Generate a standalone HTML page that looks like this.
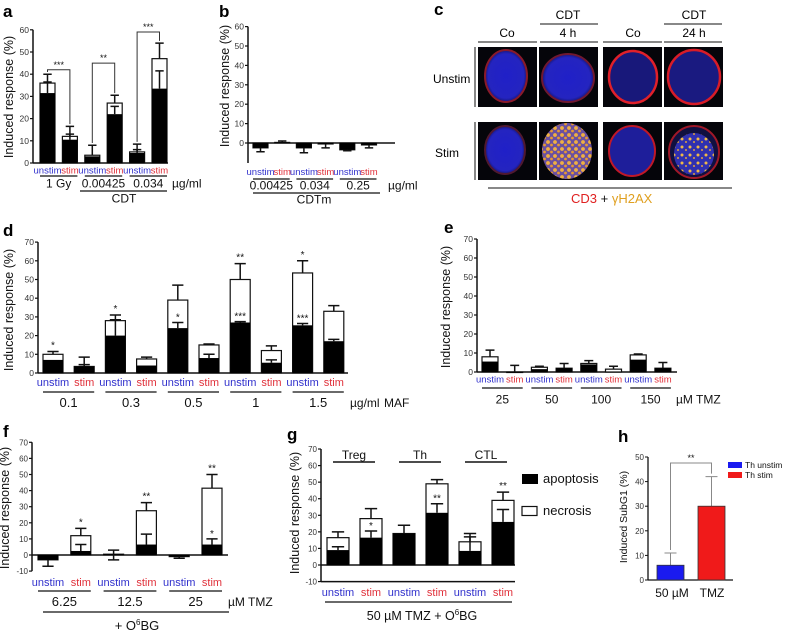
<!DOCTYPE html>
<html><head><meta charset="utf-8">
<style>
html,body{margin:0;padding:0;background:#fff;}
svg{display:block;font-family:"Liberation Sans",Arial,sans-serif;}
</style></head>
<body>
<svg id="fig" width="790" height="632" viewBox="0 0 790 632">
<defs>
<radialGradient id="nuc" cx="50%" cy="50%" r="50%"><stop offset="0%" stop-color="#2020c8"/><stop offset="85%" stop-color="#2424c0"/><stop offset="100%" stop-color="#16167a"/></radialGradient>
<pattern id="spk" width="7" height="7" patternUnits="userSpaceOnUse"><rect width="7" height="7" fill="#6a50a0"/><circle cx="2" cy="2" r="1.9" fill="#f0b040"/><circle cx="5.5" cy="5" r="1.4" fill="#e89a30"/></pattern>
<pattern id="spk2" width="8" height="8" patternUnits="userSpaceOnUse"><rect width="8" height="8" fill="#3030b0"/><circle cx="2" cy="3" r="1.5" fill="#f0b848"/><circle cx="6" cy="6" r="1" fill="#e0a040"/></pattern>
</defs>
<text x="3" y="17" font-size="17" font-weight="bold">a</text>
<text x="219" y="17" font-size="17" font-weight="bold">b</text>
<text x="434" y="15" font-size="17" font-weight="bold">c</text>
<text x="3" y="236" font-size="17" font-weight="bold">d</text>
<text x="444" y="233" font-size="17" font-weight="bold">e</text>
<text x="3" y="437" font-size="17" font-weight="bold">f</text>
<text x="287" y="440" font-size="17" font-weight="bold">g</text>
<text x="618" y="442" font-size="17" font-weight="bold">h</text>

<g>
<text x="507" y="37" font-size="12" text-anchor="middle">Co</text>
<line x1="478" y1="42" x2="537" y2="42" stroke="#111" stroke-width="1"/>
<text x="568" y="19" font-size="12" text-anchor="middle">CDT</text>
<line x1="540" y1="24" x2="598" y2="24" stroke="#111" stroke-width="1"/>
<text x="568" y="37" font-size="12" text-anchor="middle">4 h</text>
<line x1="540" y1="42" x2="598" y2="42" stroke="#111" stroke-width="1"/>
<text x="633" y="37" font-size="12" text-anchor="middle">Co</text>
<line x1="603" y1="42" x2="662" y2="42" stroke="#111" stroke-width="1"/>
<text x="694" y="19" font-size="12" text-anchor="middle">CDT</text>
<line x1="664" y1="24" x2="722" y2="24" stroke="#111" stroke-width="1"/>
<text x="694" y="37" font-size="12" text-anchor="middle">24 h</text>
<line x1="664" y1="42" x2="722" y2="42" stroke="#111" stroke-width="1"/>
<line x1="475" y1="47" x2="475" y2="107" stroke="#111" stroke-width="1"/>
<line x1="475" y1="122" x2="475" y2="180" stroke="#111" stroke-width="1"/>
<text x="433" y="83" font-size="12">Unstim</text>
<text x="435" y="157" font-size="12">Stim</text>
<rect x="478" y="47" width="59" height="60" fill="#05050a"/>
<ellipse cx="506" cy="76" rx="21" ry="26" fill="url(#nuc)" stroke="#8a1a2a" stroke-width="2"/>
<rect x="539" y="47" width="59" height="60" fill="#05050a"/>
<ellipse cx="568" cy="78" rx="26" ry="24" fill="url(#nuc)" stroke="#701830" stroke-width="2"/>
<rect x="603" y="47" width="59" height="60" fill="#05050a"/>
<ellipse cx="633" cy="77" rx="24" ry="26" fill="#18187a" stroke="#e0202a" stroke-width="2.5"/>
<rect x="664" y="47" width="59" height="60" fill="#05050a"/>
<ellipse cx="694" cy="77" rx="26" ry="27" fill="#1a1a80" stroke="#d81c28" stroke-width="2.5"/>
<rect x="478" y="122" width="59" height="58" fill="#05050a"/>
<ellipse cx="505" cy="150" rx="20" ry="24" fill="url(#nuc)" stroke="#501830" stroke-width="2"/>
<rect x="539" y="122" width="59" height="58" fill="#05050a"/>
<ellipse cx="567" cy="151" rx="25" ry="28" fill="url(#spk)"/>
<rect x="603" y="122" width="59" height="58" fill="#05050a"/>
<ellipse cx="632" cy="151" rx="23" ry="25" fill="#1e1e9a" stroke="#c01828" stroke-width="2"/>
<rect x="664" y="122" width="59" height="58" fill="#05050a"/>
<ellipse cx="694" cy="152" rx="25" ry="26" fill="#101040" stroke="#a01828" stroke-width="2"/>
<ellipse cx="694" cy="154" rx="20" ry="21" fill="url(#spk2)"/>
<line x1="488" y1="188" x2="732" y2="188" stroke="#111" stroke-width="1"/>
<text x="571" y="203" font-size="13"><tspan fill="#e02020">CD3</tspan><tspan fill="#111"> + </tspan><tspan fill="#e0a020">γH2AX</tspan></text>
</g>
<g id="charts"></g>
</svg>
<script>
const aBlack=[31.5,10.5,3,22,4.5,33.5];
const aTotal=[36,12,3.5,27,5,47];
const aErr=[40,16.5,8,30.5,8.5,54];
const aBlackErr=[36.5,13,null,25.5,6,41.5];
const aTicks=[0,10,20,30,40,50,60];
const aGroups=["1 Gy","0.00425","0.034"];
const aBracketLevel=[42,45,59];
const aBracketLabel=["***","**","***"];
const bBlack=[-2.5,0.3,-2.5,-0.5,-3.5,-1];
const bTotal=[-2.5,0.3,-2.5,-0.5,-3.5,-1];
const bErr=[-4.5,1,-5,-2.5,-4,-2.5];
const bTicks=[0,10,20,30,40,50,60];
const bGroups=["0.00425","0.034","0.25"];
const dBlack=[7,3.5,20,4,24,8,27,5.5,25.5,17];
const dTotal=[10,3.5,28,7.5,39,15,50,12,53.5,33];
const dErr=[11.5,8.5,31,8.5,47,15.5,58.5,14.5,60,36];
const dBlackErr=[null,4.5,28.5,null,27,10,27.5,7,26.5,18];
const dTopStar=["*","","*","","","","**","","*",""];
const dInStar=["","","","","*","","***","","***",""];
const dTicks=[0,10,20,30,40,50,60,70];
const dGroups=["0.1","0.3","0.5","1","1.5"];
const eBlack=[5.5,0,1.5,2,4,0,6.5,2];
const eTotal=[8,0,2.5,2,4.5,1.5,9,2];
const eErr=[11.5,3.5,3,4.5,6,3,9.5,5];
const eTicks=[0,10,20,30,40,50,60,70];
const eGroups=["25","50","100","150"];
const fBlack=[-3,2.5,0.5,6.5,-1,6.5];
const fTotal=[-3,12,0.5,27.5,-1,41.5];
const fErr=[-7,16.5,3,32.5,-2,50];
const fBlackErr=[null,6.5,-3,13,null,10];
const fTopStar=["","*","","**","","**"];
const fInStar=["","","","","","*"];
const fTicks=[-10,0,10,20,30,40,50,60,70];
const fGroups=["6.25","12.5","25"];
const gBlack=[9,16.5,19,31.5,8.5,26];
const gTotal=[16.5,28,19,49,14,39];
const gErr=[20,34,24,51.5,19,44];
const gBlackErr=[11,20.5,null,37,17,33.5];
const gTopStar=["","","","","","**"];
const gInStar=["","*","","**","",""];
const gTicks=[-10,0,10,20,30,40,50,60,70];
const gCells=["Treg","Th","CTL"];
const hSeries=["Th unstim","Th stim"];
const hValues=[6,30];
const hErr=[11,42];
const hTicks=[0,10,20,30,40,50];

const pairLabels=["unstim","stim"];
const NS='http://www.w3.org/2000/svg';
const root=document.getElementById('charts');
function mk(tag,attrs,parent){const e=document.createElementNS(NS,tag);for(const k in attrs)e.setAttribute(k,attrs[k]);(parent||root).appendChild(e);return e;}
function tx(x,y,s,size,anchor,fill,parent,extra){const e=mk('text',Object.assign({x:x,y:y,'font-size':size,'text-anchor':anchor||'middle',fill:fill||'#111'},extra||{}),parent);e.textContent=s;return e;}

function drawPanel(p){
  const g=mk('g',{});
  
  
  const Y=v=>p.zy-v*p.ppu;
  const X=i=>p.c0+i*p.sp;
  const tmin=p.ticks[0], tmax=p.ticks[p.ticks.length-1];
  const axBottom=Math.max(Y(tmin),p.zy);
  const ya=mk('line',{x1:p.ax,y1:Y(tmax),x2:p.ax,y2:p.axBottom||axBottom,stroke:'#111','stroke-width':1.5},g);
  
  
  const xa=mk('line',{x1:p.ax,y1:p.zy,x2:p.xend,y2:p.zy,stroke:'#111','stroke-width':1.5},g);
  
  
  if(p.bottomLine){const bl=mk('line',{x1:p.ax,y1:Y(tmin),x2:p.xend,y2:Y(tmin),stroke:'#111','stroke-width':1.5},g);
    
    }
  p.ticks.forEach(t=>{
    mk('line',{x1:p.ax-3,y1:Y(t),x2:p.ax,y2:Y(t),stroke:'#111','stroke-width':1.2},g);
    const tl=tx(p.ax-4,Y(t)+3,String(t),p.tickSize||8.5,'end','#333',g);
    
    
  });
  const yt=tx(0,0,p.ytitle||'Induced response (%)',p.titleSize||12.5,'middle','#111',g,{transform:'translate('+p.tx+','+p.ty+') rotate(-90)'});
  
  
  const cap=p.w*0.28;
  p.total.forEach((tot,i)=>{
    const cx=X(i), blk=p.black[i];
    const y1=Y(Math.max(tot,0)), y2=Y(Math.min(tot,0));
    const ob=mk('rect',{x:cx-p.w/2,y:y1,width:p.w,height:Math.max(y2-y1,0.5),fill:'#fff',stroke:'#111','stroke-width':1.2},g);
    
    
    const b1=Y(Math.max(blk,0)), b2=Y(Math.min(blk,0));
    const bb=mk('rect',{x:cx-p.w/2,y:b1,width:p.w,height:Math.max(b2-b1,0.5),fill:'#000'},g);
    
    
    const e=p.err[i];
    if(e!==null&&e!==undefined){
      const el=mk('path',{d:'M'+cx+' '+Y(tot)+'V'+Y(e)+'M'+(cx-cap)+' '+Y(e)+'H'+(cx+cap),stroke:'#111','stroke-width':1.5,fill:'none'},g);
      
      
    }
    if(p.berr&&p.berr[i]!==null){
      const be=p.berr[i];
      const el2=mk('path',{d:'M'+cx+' '+Y(blk)+'V'+Y(be)+'M'+(cx-cap)+' '+Y(be)+'H'+(cx+cap),stroke:'#111','stroke-width':1.5,fill:'none'},g);
      
      
    }
    if(p.topStar&&p.topStar[i]){
      const s=tx(cx,Y(Math.max(e,tot))-3,p.topStar[i],10,'middle','#111',g);
      
      
    }
    if(p.inStar&&p.inStar[i]){
      const lvl=(p.berr&&p.berr[i]!==null)?Math.max(p.berr[i],blk):blk;
      const s2=tx(cx,Y(lvl)-2,p.inStar[i],10,'middle','#111',g);
      
      
    }
    const lab=tx(cx,p.labY,pairLabels[i%2],p.labSize||10,'middle',i%2?'#e0303a':'#3030cc',g);
    
    
  });
  if(p.groups){
    p.groups.forEach((name,k)=>{
      const xa1=X(2*k)-p.w/2, xa2=X(2*k+1)+p.w/2;
      if(p.pairLineY){const ln=mk('line',{x1:xa1,y1:p.pairLineY,x2:xa2,y2:p.pairLineY,stroke:'#111','stroke-width':1.2},g);
        
        }
      const gt=tx((xa1+xa2)/2,p.groupY,name,p.groupSize||12,'middle','#111',g);
      
      
    });
  }
  return {g:g,X:X,Y:Y};
}

const A=drawPanel({id:'a',ax:33,zy:163,ppu:2.22,ticks:aTicks,xend:168,c0:47.5,sp:22.4,w:15,black:aBlack,total:aTotal,err:aErr,berr:aBlackErr,labY:173.5,labSize:9.5,groups:aGroups,pairLineY:176,groupY:187.5,tx:13,ty:97});
aBracketLevel.forEach((lv,k)=>{
  const i=2*k,j=2*k+1;
  const br=mk('path',{d:'M'+A.X(i)+' '+A.Y(aErr[i]+1)+'V'+A.Y(lv)+'H'+A.X(j)+'V'+A.Y(aErr[j]+1),stroke:'#333','stroke-width':1,fill:'none'},A.g);
  
  
  const bt=tx((A.X(i)+A.X(j))/2,A.Y(lv)-2,aBracketLabel[k],9,'middle','#111',A.g);
  
  
});
let t;
t=tx(172,187.5,'µg/ml',12,'start');
t=mk('line',{x1:80,y1:191,x2:167,y2:191,stroke:'#111','stroke-width':1.2});
t=tx(124,202.5,'CDT',12);
drawPanel({id:'b',ax:248,zy:143,ppu:1.94,ticks:bTicks,axBottom:163,xend:395,c0:260.5,sp:21.7,w:15,black:bBlack,total:bTotal,err:bErr,labY:175,labSize:9.5,groups:bGroups,pairLineY:179,groupY:189.5,tx:229,ty:86});
t=tx(388,189.5,'µg/ml',12,'start');
t=mk('line',{x1:253,y1:193,x2:380,y2:193,stroke:'#111','stroke-width':1.2});
t=tx(314,203.5,'CDTm',12);
drawPanel({id:'d',ax:38,zy:373,ppu:1.87,ticks:dTicks,xend:348,c0:53,sp:31.2,w:20,black:dBlack,total:dTotal,err:dErr,berr:dBlackErr,topStar:dTopStar,inStar:dInStar,labY:386,labSize:11,groups:dGroups,pairLineY:392,groupY:407,groupSize:13,tx:13,ty:310});
t=tx(350,407,'µg/ml',12,'start');
t=tx(384,407,'MAF',12,'start');
drawPanel({id:'e',ax:477,zy:372,ppu:1.9,ticks:eTicks,xend:677,c0:490,sp:24.7,w:16,black:eBlack,total:eTotal,err:eErr,labY:382.5,labSize:9.5,groups:eGroups,pairLineY:388,groupY:403.5,tx:450,ty:307});
t=tx(676,403.5,'µM TMZ',12,'start');
drawPanel({id:'f',ax:32,zy:555,ppu:1.61,ticks:fTicks,xend:228,c0:48,sp:32.8,w:20,black:fBlack,total:fTotal,err:fErr,berr:fBlackErr,topStar:fTopStar,inStar:fInStar,labY:586,labSize:11,groups:fGroups,pairLineY:591,groupY:606,groupSize:13,tx:9,ty:508,tickSize:8});
t=tx(228,606,'µM TMZ',12,'start');
t=mk('line',{x1:43,y1:612,x2:229,y2:612,stroke:'#111','stroke-width':1.2});
t=tx(137,630,'',13);t.innerHTML='+ O<tspan font-size="8" dy="-5">6</tspan><tspan dy="5">BG</tspan>';
const G=drawPanel({id:'g',ax:321,zy:565,ppu:1.657,ticks:gTicks,bottomLine:true,xend:515,c0:338,sp:33,w:22,black:gBlack,total:gTotal,err:gErr,berr:gBlackErr,topStar:gTopStar,inStar:gInStar,labY:596,labSize:11,tx:299,ty:513,tickSize:8});
gCells.forEach((c,k)=>{
  const x1=G.X(2*k)-5,x2=G.X(2*k+1)+4;
  const ln=mk('line',{x1:x1,y1:462,x2:x2,y2:462,stroke:'#111','stroke-width':1.5},G.g);
  
  
  const ct=tx((x1+x2)/2,459,c,12,'middle','#111',G.g);
  
  
});
t=mk('line',{x1:325,y1:602,x2:512,y2:602,stroke:'#111','stroke-width':1.2});
t=tx(422,620,'',12.5);t.innerHTML='50 µM TMZ + O<tspan font-size="8" dy="-5">6</tspan><tspan dy="5">BG</tspan>';
t=mk('rect',{x:522,y:474,width:16,height:10,fill:'#000'});
t=tx(543,483,'apoptosis',13,'start');
t=mk('rect',{x:522,y:506.5,width:15,height:9,fill:'#fff',stroke:'#111','stroke-width':1.2});
t=tx(543,515,'necrosis',13,'start');
(function(){
  const ax=648,zy=580,ppu=2.46,xend=733;
  const Y=v=>zy-v*ppu;
  const centers=[670.5,711.5];
  const cols=['#1a1af0','#f01a1a'];
  const g=mk('g',{});
  
  
  let e=mk('line',{x1:ax,y1:Y(50),x2:ax,y2:zy,stroke:'#111','stroke-width':1.3},g);
  
  
  e=mk('line',{x1:ax,y1:zy,x2:xend,y2:zy,stroke:'#111','stroke-width':1.3},g);
  
  
  hTicks.forEach(v=>{
    mk('line',{x1:ax-3,y1:Y(v),x2:ax,y2:Y(v),stroke:'#111','stroke-width':1},g);
    const l=tx(ax-4,Y(v)+3,String(v),8,'end','#333',g);
    
    
  });
  hValues.forEach((v,i)=>{
    const c=centers[i];
    const eb=mk('path',{d:'M'+c+' '+Y(v)+'V'+Y(hErr[i])+'M'+(c-6)+' '+Y(hErr[i])+'H'+(c+6),stroke:'#888','stroke-width':1,fill:'none'},g);
    
    
    const r=mk('rect',{x:c-13.5,y:Y(v),width:27,height:v*ppu,fill:cols[i],stroke:'#333','stroke-width':0.8},g);
    
    
    const sw=mk('rect',{x:728,y:462+i*10,width:14,height:6,fill:cols[i]},g);
    
    
    const lt=tx(745,468+i*10,hSeries[i],8.5,'start','#111',g);
    
    
  });
  const br=mk('path',{d:'M'+centers[0]+' '+(Y(hErr[0])-3)+'V463H'+centers[1]+'V'+(Y(hErr[1])-3),stroke:'#888','stroke-width':1,fill:'none'},g);
  
  
  let s=tx(691,461,'**',9,'middle','#111',g);
  
  
  s=tx(672,597,'50 µM',12,'middle','#111',g);
  
  
  s=tx(712,597,'TMZ',12,'middle','#111',g);
  
  
  s=tx(0,0,'Induced SubG1 (%)',10.5,'middle','#111',g,{transform:'translate(627,517) rotate(-90)'});
  
  
})();
</script>
</body></html>
